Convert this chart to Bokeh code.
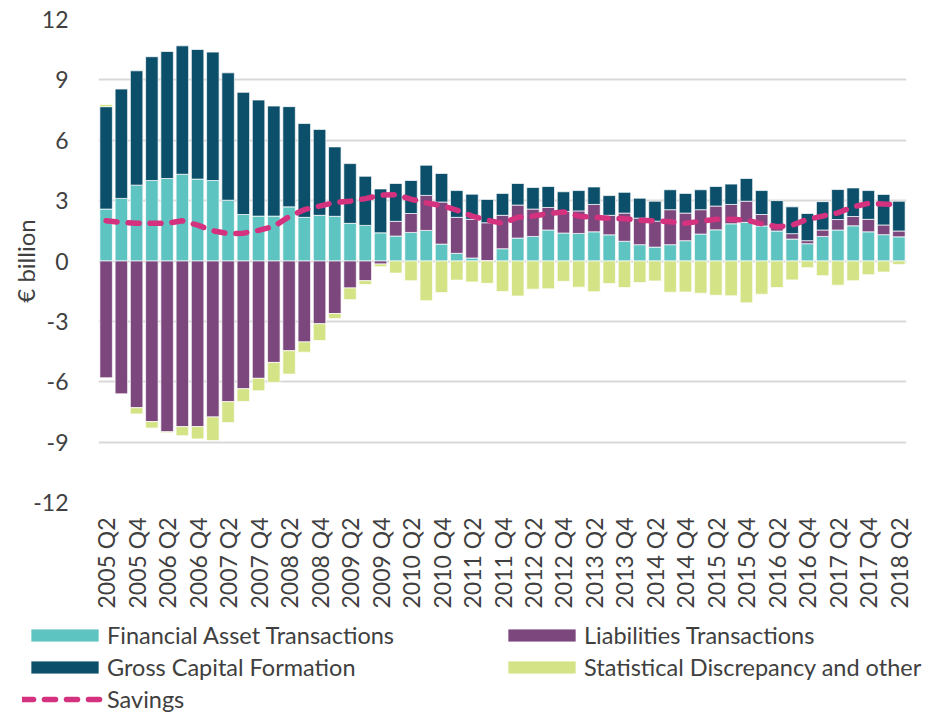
import numpy as np
from bokeh.plotting import figure
from bokeh.layouts import column
from bokeh.models import ColumnDataSource, FixedTicker, Legend, LegendItem, Range1d
from bokeh.embed import file_html
from bokeh.resources import INLINE

quarters = [f"{y} Q{q}" for y in range(2005, 2019) for q in range(1, 5)][1:54]

financial_assets = [2.58, 3.11, 3.77, 4.00, 4.10, 4.31, 4.07, 4.00, 3.02, 2.31,
                    2.23, 2.23, 2.69, 2.17, 2.27, 2.22, 1.87, 1.77, 1.40, 1.24,
                    1.42, 1.52, 0.84, 0.38, 0.15, 0.02, 0.61, 1.14, 1.22, 1.54,
                    1.39, 1.37, 1.45, 1.30, 0.98, 0.81, 0.69, 0.81, 1.01, 1.34,
                    1.55, 1.85, 1.92, 1.74, 1.49, 1.09, 0.86, 1.22, 1.54, 1.75,
                    1.45, 1.31, 1.20]
liabilities = [-5.80, -6.60, -7.29, -7.98, -8.49, -8.23, -8.23, -7.75, -6.99, -6.35,
               -5.83, -5.04, -4.46, -4.02, -3.12, -2.61, -1.34, -0.98, -0.15, 0.73,
               0.94, 1.74, 2.09, 1.79, 1.92, 1.88, 1.66, 1.64, 1.36, 1.12,
               1.07, 1.12, 1.36, 0.97, 1.40, 1.32, 1.29, 1.74, 1.37, 1.21,
               1.18, 0.96, 1.05, 0.57, 0.27, 0.27, 0.15, 0.32, 0.52, 0.46,
               0.62, 0.48, 0.29]
gross_capital = [5.09, 5.45, 5.68, 6.15, 6.31, 6.38, 6.44, 6.38, 6.33, 6.07,
                 5.77, 5.47, 4.98, 4.66, 4.27, 3.45, 2.97, 2.44, 2.18, 1.88,
                 1.64, 1.50, 1.42, 1.33, 1.25, 1.16, 1.09, 1.07, 1.07, 1.04,
                 0.98, 1.01, 0.87, 0.98, 1.03, 0.99, 0.99, 0.99, 0.98, 0.99,
                 0.97, 1.01, 1.13, 1.19, 1.24, 1.33, 1.35, 1.41, 1.49, 1.42,
                 1.43, 1.52, 1.48]
stat_discrepancy = [0.11, 0.00, -0.31, -0.32, -0.05, -0.45, -0.61, -1.17, -1.04, -0.63,
                    -0.62, -0.99, -1.16, -0.51, -0.83, -0.25, -0.58, -0.19, -0.13, -0.60,
                    -0.98, -1.97, -1.57, -0.95, -1.04, -1.11, -1.52, -1.74, -1.40, -1.38,
                    -1.01, -1.30, -1.53, -1.12, -1.32, -1.07, -0.99, -1.55, -1.54, -1.60,
                    -1.70, -1.73, -2.08, -1.65, -1.32, -0.94, -0.33, -0.73, -1.20, -0.98,
                    -0.68, -0.55, -0.17]
savings = [2.00, 1.92, 1.87, 1.87, 1.87, 2.00, 1.78, 1.50, 1.36, 1.38,
           1.52, 1.72, 2.20, 2.55, 2.73, 2.91, 2.97, 3.10, 3.27, 3.30,
           3.07, 2.89, 2.75, 2.53, 2.23, 2.03, 1.87, 2.17, 2.23, 2.36,
           2.44, 2.23, 2.17, 2.12, 2.10, 2.03, 2.00, 1.95, 1.87, 1.98,
           2.07, 2.07, 2.03, 1.85, 1.70, 1.78, 2.07, 2.23, 2.39, 2.69,
           2.86, 2.83, 2.81]

series_names = ["Financial Asset Transactions", "Liabilities Transactions",
                "Gross Capital Formation", "Statistical Discrepancy and other"]
series_values = [financial_assets, liabilities, gross_capital, stat_discrepancy]
series_colors = ["#5EC4C1", "#7B477D", "#0B4F6A", "#D5E387"]
savings_color = "#D4317F"
y_ticks = [-12, -9, -6, -3, 0, 3, 6, 9, 12]

FONT = "Lato"
TXT = "#404040"

x = np.arange(len(quarters))
pos_base = np.zeros(len(quarters))
neg_base = np.zeros(len(quarters))
data = {"x": x, "savings": savings}
for i, vals in enumerate(series_values):
    v = np.array(vals, dtype=float)
    bottom = np.where(v >= 0, pos_base, neg_base)
    top = bottom + v
    pos_base = np.where(v >= 0, top, pos_base)
    neg_base = np.where(v < 0, top, neg_base)
    data[f"b{i}"] = bottom
    data[f"t{i}"] = top
source = ColumnDataSource(data)

p = figure(width=928, height=612, output_backend="svg", toolbar_location=None,
           x_range=Range1d(-0.5, len(quarters) - 0.5), y_range=Range1d(-12, 12),
           min_border_left=98, min_border_right=22, min_border_top=19, min_border_bottom=110)
p.outline_line_color = None
p.frame_align = False

bar_style = dict(line_color="white", line_width=1, line_alpha=0.7)
line_style = dict(line_color=savings_color, line_width=5.5, line_dash="11 11", line_cap="round")


def draw(fig):
    rs = []
    for i, color in enumerate(series_colors):
        rs.append(fig.vbar(x="x", width=0.82, bottom=f"b{i}", top=f"t{i}", source=source,
                           fill_color=color, **bar_style))
    rs.append(fig.line(x="x", y="savings", source=source, **line_style))
    return rs


draw(p)

p.xgrid.grid_line_color = None
p.ygrid.grid_line_color = "#D9D9D9"
p.ygrid.grid_line_width = 2
p.yaxis.ticker = FixedTicker(ticks=y_ticks)
p.yaxis.major_label_overrides = {t: str(t) for t in y_ticks}
p.xaxis.ticker = FixedTicker(ticks=list(range(0, len(quarters), 2)))
p.xaxis.major_label_overrides = {i: quarters[i] for i in range(0, len(quarters), 2)}
p.xaxis.major_label_orientation = np.pi / 2

for ax in (p.xaxis, p.yaxis):
    ax.axis_line_color = None
    ax.major_tick_line_color = None
    ax.minor_tick_line_color = None
    ax.major_label_text_font = FONT
    ax.major_label_text_font_size = "23px"
    ax.major_label_text_color = TXT
p.yaxis.major_label_standoff = 24
p.xaxis.major_label_standoff = 9
p.yaxis.axis_label = "€ billion"
p.yaxis.axis_label_text_font = FONT
p.yaxis.axis_label_text_font_size = "24px"
p.yaxis.axis_label_text_font_style = "normal"
p.yaxis.axis_label_text_color = TXT
p.yaxis.axis_label_standoff = -10

# legend strip below the chart (its view range shows no marks; only the legend is visible)
lg = figure(width=928, height=103, output_backend="svg", toolbar_location=None,
            x_range=Range1d(-200, -199), y_range=Range1d(-200, -199),
            min_border_left=0, min_border_right=0, min_border_top=0, min_border_bottom=0)
lg.axis.visible = False
lg.grid.visible = False
lg.outline_line_color = None
lg.frame_align = False
legend_renderers = draw(lg)

legend_style = dict(label_text_font=FONT, label_text_font_size="23.5px", label_text_color=TXT,
                    glyph_width=85, glyph_height=16, label_standoff=0,
                    label_height=22, spacing=4, padding=0, margin=0,
                    border_line_color=None, background_fill_alpha=0)
all_names = series_names + ["Savings"]
left_idx = [0, 2, 4]
right_idx = [1, 3]
leg_a = Legend(items=[LegendItem(label=all_names[i], renderers=[legend_renderers[i]]) for i in left_idx],
               location=(22, 2), orientation="vertical", **legend_style)
leg_b = Legend(items=[LegendItem(label=all_names[i], renderers=[legend_renderers[i]]) for i in right_idx],
               location=(499, 34), orientation="vertical", **legend_style)
lg.add_layout(leg_a, "center")
lg.add_layout(leg_b, "center")

layout = column(p, lg, spacing=0)
open("out.html", "w").write(file_html(layout, INLINE))
